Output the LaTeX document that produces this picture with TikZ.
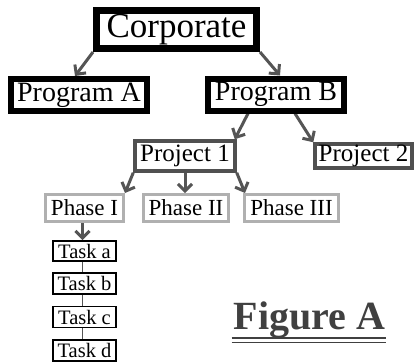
\documentclass[tikz,border=0pt]{standalone}
\usepackage{fontspec}
\setmainfont{Liberation Serif}
\usetikzlibrary{arrows.meta,backgrounds}
\definecolor{arrc}{HTML}{555555}
\definecolor{projc}{HTML}{505050}
\definecolor{phasec}{HTML}{B0B0B0}
\definecolor{figc}{HTML}{404040}
\begin{document}
\begin{tikzpicture}[x=1pt,y=-1pt,
 box/.style={draw,fill=white,inner sep=0pt,rectangle,anchor=center},
 corp/.style={box,line width=7pt,minimum width=160pt,minimum height=38pt,font=\fontsize{35}{35}\selectfont},
 prog/.style={box,line width=6pt,minimum width=136pt,minimum height=32pt,font=\fontsize{28}{28}\selectfont},
 proj/.style={box,draw=projc,line width=3.5pt,minimum height=30pt,font=\fontsize{25}{25}\selectfont},
 phase/.style={box,draw=phasec,line width=3pt,minimum height=27pt,font=\fontsize{23}{23}\selectfont},
 task/.style={box,line width=1.8pt,minimum width=63pt,minimum height=21pt,font=\fontsize{20.5}{20.5}\selectfont},
 arr/.style={draw=arrc,line width=3pt,-{Straight Barb[length=7pt,width=14pt]}},
 tline/.style={draw=arrc,line width=1.5pt}
]
\useasboundingbox (0,0) rectangle (414,362);
\node[corp] (corp) at (176.5,29.5) {Corporate};
\node[prog] (pa) at (79,95) {Program A};
\node[prog] (pb) at (276,94.5) {Program B};
\node[proj,minimum width=100pt] (p1) at (185,156) {Project 1};
\node[proj,minimum width=97pt,minimum height=24pt] (p2) at (363.5,156) {Project 2};
\node[phase,minimum width=78pt] (ph1) at (84.5,208) {Phase I};
\node[phase,minimum width=85pt] (ph2) at (186,208) {Phase II};
\node[phase,minimum width=94pt] (ph3) at (291.5,208) {Phase III};
\node[task,minimum height=20pt] (ta) at (84.5,251) {Task a};
\node[task] (tb) at (84.5,283.5) {Task b};
\node[task] (tc) at (84.5,317) {Task c};
\node[task] (td) at (84.5,350.5) {Task d};
\node[font=\fontsize{40}{40}\selectfont\bfseries,text=figc,anchor=base,inner sep=0pt] (fig) at (309.5,329) {Figure A};
\draw[figc,line width=1.5pt] ([yshift=-9pt,xshift=-2pt]fig.base west) -- ([yshift=-9pt,xshift=1pt]fig.base east);
\draw[figc,line width=1.5pt] ([yshift=-13.5pt,xshift=-2pt]fig.base west) -- ([yshift=-13.5pt,xshift=1pt]fig.base east);
\begin{scope}[on background layer]
\draw[arr] (corp.south west) -- ([xshift=-4pt]pa.north);
\draw[arr] (corp.south east) -- ([xshift=4pt]pb.north);
\draw[arr] ([xshift=-28pt]pb.south) -- ([xshift=-2pt]p1.north east);
\draw[arr] ([xshift=19pt]pb.south) -- (p2.north west);
\draw[arr] (p1.south west) -- (ph1.north east);
\draw[arr] (p1.south) -- (p1.south |- ph2.north);
\draw[arr] (p1.south east) -- ([xshift=2pt]ph3.north west);
\draw[arr] ([xshift=-2pt]ph1.south) -- ([xshift=-2pt]ta.north);
\draw[tline] ([xshift=-2pt]ta.south) -- ([xshift=-2pt]tb.north);
\draw[tline] ([xshift=-2pt]tb.south) -- ([xshift=-2pt]tc.north);
\draw[tline] ([xshift=-2pt]tc.south) -- ([xshift=-2pt]td.north);
\end{scope}
\end{tikzpicture}
\end{document}
